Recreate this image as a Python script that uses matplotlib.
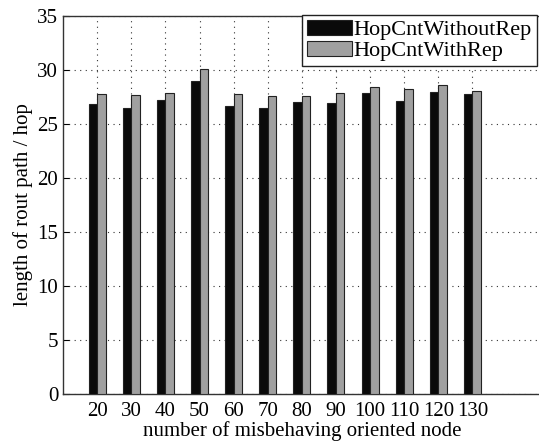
import matplotlib
matplotlib.use("Agg")
import matplotlib.pyplot as plt
import numpy as np

categories = ["20", "30", "40", "50", "60", "70", "80", "90", "100", "110", "120", "130"]
without_rep = [26.85, 26.5, 27.2, 29.0, 26.7, 26.5, 27.0, 26.9, 27.9, 27.15, 27.95, 27.8]
with_rep = [27.75, 27.65, 27.9, 30.05, 27.75, 27.6, 27.6, 27.9, 28.45, 28.25, 28.6, 28.05]
yticks = [0, 5, 10, 15, 20, 25, 30, 35]

plt.rcParams['font.family'] = ['Liberation Serif', 'DejaVu Serif']

fig = plt.figure(figsize=(5.39, 4.48), dpi=100)
ax = fig.add_axes([0.117, 0.1205, 0.886, 0.8438])

x = np.arange(1, len(categories) + 1)
w = 0.25
ax.bar(x - w / 2, without_rep, w, color='#0a0a0a', edgecolor='#222222', linewidth=0.8,
       label='HopCntWithoutRep', zorder=3)
ax.bar(x + w / 2, with_rep, w, color='#a0a0a0', edgecolor='#222222', linewidth=0.8,
       label='HopCntWithRep', zorder=3)

ax.set_xlim(0, 14)
ax.set_ylim(0, 35)
ax.set_xticks(x)
ax.set_xticklabels(categories)
ax.set_yticks(yticks)
ax.tick_params(direction='in', length=4, labelsize=15, width=0.8)
ax.tick_params(axis='x', pad=6)
ax.grid(True, linestyle=(0, (1, 4)), color='#333333', linewidth=0.8, zorder=0)
for s in ax.spines.values():
    s.set_linewidth(1.0)
    s.set_color('#333333')

ax.set_xlabel('number of misbehaving oriented node', fontsize=15, labelpad=0)
ax.set_ylabel('length of rout path / hop', fontsize=15, labelpad=3)

leg = ax.legend(loc='upper left', bbox_to_anchor=(302 / 539, 1 - 15 / 448),
                bbox_transform=fig.transFigure, fontsize=16, frameon=True,
                fancybox=False, borderaxespad=0, handlelength=2.05,
                handleheight=0.7, handletextpad=0.05, labelspacing=0.02,
                borderpad=0.22)
leg.get_frame().set_edgecolor('#222222')
leg.get_frame().set_linewidth(1.0)
leg.get_frame().set_alpha(1)

fig.savefig('out.png', dpi=100)
